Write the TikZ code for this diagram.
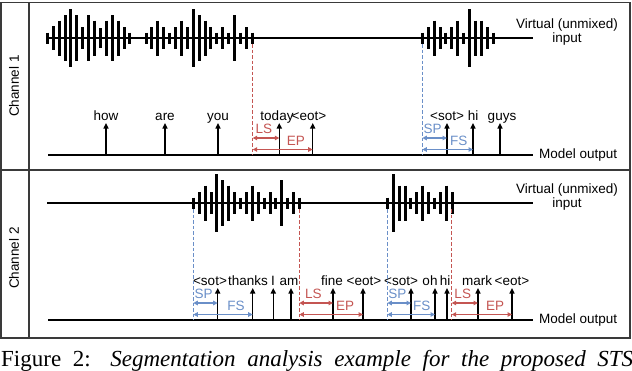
\documentclass[tikz,border=0pt]{standalone}
\usepackage{fontspec}
\setmainfont{Liberation Sans}
\newfontfamily\capfont{Liberation Serif}
\usepackage{tikz}
\usetikzlibrary{arrows.meta,positioning}
\definecolor{endred}{HTML}{C45552}
\definecolor{startblue}{HTML}{6A8FC8}
\definecolor{framegray}{HTML}{3A3A3A}
% one burst of the waveform: start x, base line y, half heights of the bars
\newcommand{\burst}[3]{%
\foreach \h [count=\i from 0] in {#3}
  \draw[wavebar] (#1+\i*5.9,#2-\h) -- (#1+\i*5.9,#2+\h);%
}

\begin{document}
\begin{tikzpicture}[
  x=1pt, y=-1pt,
  font=\fontsize{13.5}{16}\selectfont,
  frame/.style={draw=framegray, line width=1.5pt},
  baseln/.style={line width=1.6pt},
  wavebar/.style={line width=3pt},
  tok/.style={-{Triangle[length=5.5pt,width=5pt]}, line width=1.5pt},
  word/.style={anchor=base, inner sep=0pt},
  meas/.style={{Triangle[length=4.5pt,width=4.5pt]}-{Triangle[length=4.5pt,width=4.5pt]}, line width=1.2pt},
  segline/.style={dashed, dash pattern=on 3.5pt off 2pt, line width=1.2pt},
  lbl/.style={above=3.5pt, inner sep=0pt}
]
\useasboundingbox (0,0) rectangle (632,370);

% frame
\draw[frame] (1,2.5) rectangle (630,338);
\draw[frame] (1,170) -- (630,170);
\draw[frame] (29,2.5) -- (29,338);
\node[rotate=90] (ch1) at (14,86) {Channel 1};
\node[rotate=90] (ch2) at (14,258) {Channel 2};

%%% channel 1
\coordinate (in1a) at (47,38);
\coordinate (in1b) at (533,38);
\coordinate (out1a) at (48,155);
\coordinate (out1b) at (533,155);
\draw[baseln] (in1a) -- (in1b);
\draw[baseln] (out1a) -- (out1b);
\node[align=center] (vi1) at (567,32) {Virtual (unmixed)\\[-2pt]input};
\node[anchor=west, inner sep=0pt] (mo1) at (539,155) {Model output};

\burst{47.3}{38}{5.5,12,17.5,23,29,23,11,23,17.5,10,17.5,23,17.5,11,5.5}
\burst{146}{38}{5.5,11,17.5,11,5.5,11,17.5,11,29,23,17.5,11,5.5,11,5.5,23,5.5,11,5.5}
\burst{422.3}{38}{5.5,11,17.5,11,5.5,11,17.5,5.5,29,17.5,17.5,11,5.5}

\foreach \n/\x/\lx/\w in {1/106/106/how, 2/165/165/are, 3/218/218/you,
    4/279.3/277/today, 5/312.7/309/<eot>, 6/447/447/<sot>, 7/473/473/hi, 8/500/502/guys}{
  \coordinate (k1-\n) at (\x,155);
  \coordinate (k1-\n-top) at (\x,123);
  \draw[tok] (k1-\n) -- (k1-\n-top);
  \node[word] (w1-\n) at (\lx,120) {\w};
}

\coordinate (e1) at (252.7,155);
\coordinate (e1-top) at (252.7,44);
\coordinate (s1) at (422.3,155);
\coordinate (s1-top) at (422.3,44);
\draw[segline, endred] (e1-top) -- (e1);
\draw[segline, startblue] (s1-top) -- (s1);

\draw[meas, endred] ([yshift=17pt]e1) -- ([yshift=17pt]k1-4) node[pos=.42, lbl] {LS};
\draw[meas, endred] ([yshift=5.5pt]e1) -- ([yshift=5.5pt]k1-5) node[pos=.72, lbl] {EP};
\draw[meas, startblue] ([yshift=17pt]s1) -- ([yshift=17pt]k1-6) node[pos=.42, lbl] {SP};
\draw[meas, startblue] ([yshift=5.5pt]s1) -- ([yshift=5.5pt]k1-7) node[pos=.72, lbl] {FS};

%%% channel 2
\coordinate (in2a) at (47,203);
\coordinate (in2b) at (533,203);
\coordinate (out2a) at (48,320);
\coordinate (out2b) at (533,320);
\draw[baseln] (in2a) -- (in2b);
\draw[baseln] (out2a) -- (out2b);
\node[align=center] (vi2) at (567,197) {Virtual (unmixed)\\[-2pt]input};
\node[anchor=west, inner sep=0pt] (mo2) at (539,320) {Model output};

\burst{193.3}{203}{5.5,11,17.5,11,29,23,17.5,11,5.5,11,17.5,11,5.5,11,5.5,23,5.5,11,5.5}
\burst{387.3}{203}{5.5,29,17.5,17.5,5.5,11,17.5,11,5.5,11,17.5,11}

\foreach \n/\x/\lx/\w in {1/217.7/210/<sot>, 2/252.7/248/thanks, 3/273.3/273/I, 4/291/289/am,
    5/333/332/fine, 6/363/364/<eot>, 7/411/401/<sot>, 8/435/430/oh, 9/447/445/hi,
    10/478/477/mark, 11/512/512/<eot>}{
  \coordinate (k2-\n) at (\x,320);
  \coordinate (k2-\n-top) at (\x,288);
  \draw[tok] (k2-\n) -- (k2-\n-top);
  \node[word] (w2-\n) at (\lx,285) {\w};
}

\coordinate (s2) at (193.3,320);
\coordinate (s2-top) at (193.3,209);
\coordinate (e2) at (299.3,320);
\coordinate (e2-top) at (299.3,209);
\coordinate (s3) at (387.3,320);
\coordinate (s3-top) at (387.3,209);
\coordinate (e3) at (451.7,320);
\coordinate (e3-top) at (451.7,209);
\draw[segline, startblue] (s2-top) -- (s2);
\draw[segline, endred] (e2-top) -- (e2);
\draw[segline, startblue] (s3-top) -- (s3);
\draw[segline, endred] (e3-top) -- (e3);

\draw[meas, startblue] ([yshift=17pt]s2) -- ([yshift=17pt]k2-1) node[pos=.42, lbl] {SP};
\draw[meas, startblue] ([yshift=5.5pt]s2) -- ([yshift=5.5pt]k2-2) node[pos=.72, lbl] {FS};
\draw[meas, endred] ([yshift=17pt]e2) -- ([yshift=17pt]k2-5) node[pos=.42, lbl] {LS};
\draw[meas, endred] ([yshift=5.5pt]e2) -- ([yshift=5.5pt]k2-6) node[pos=.72, lbl] {EP};
\draw[meas, startblue] ([yshift=17pt]s3) -- ([yshift=17pt]k2-7) node[pos=.42, lbl] {SP};
\draw[meas, startblue] ([yshift=5.5pt]s3) -- ([yshift=5.5pt]k2-8) node[pos=.72, lbl] {FS};
\draw[meas, endred] ([yshift=17pt]e3) -- ([yshift=17pt]k2-10) node[pos=.42, lbl] {LS};
\draw[meas, endred] ([yshift=5.5pt]e3) -- ([yshift=5.5pt]k2-11) node[pos=.72, lbl] {EP};

% caption
\node[anchor=base west, inner sep=0pt, font=\capfont\fontsize{23}{26}\selectfont] (cap) at (1,366)
  {\makebox[632pt][s]{Figure 2: \textit{Segmentation analysis example for the proposed STS}}};
\end{tikzpicture}
\end{document}
